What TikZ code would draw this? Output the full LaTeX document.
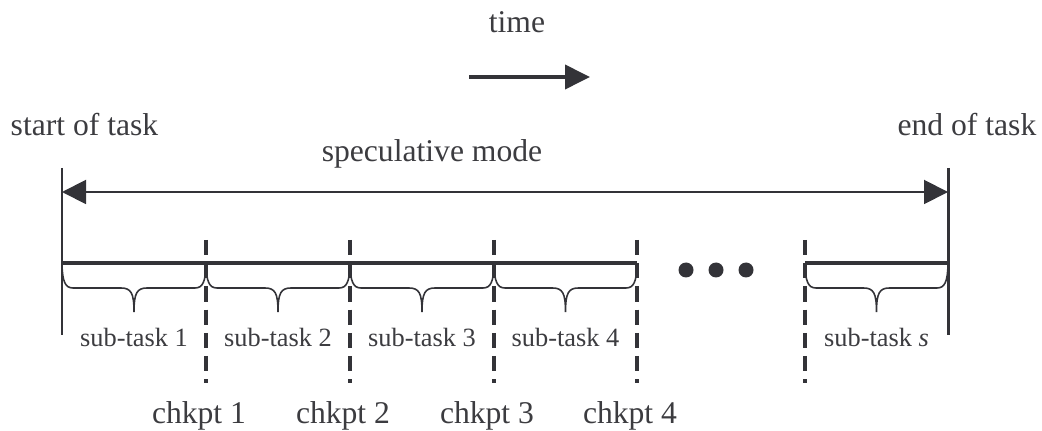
\documentclass[tikz,border=0pt]{standalone}
\usepackage{fontspec}
\setmainfont{Liberation Serif}
\usetikzlibrary{arrows.meta, positioning, calc}
\definecolor{tlgray}{HTML}{333338}
\definecolor{txgray}{HTML}{3C3C40}

\begin{document}
\begin{tikzpicture}[
  lbl/.style={text=txgray, font=\fontsize{9}{11}\selectfont, inner sep=0pt, anchor=base},
  sublbl/.style={text=txgray, font=\fontsize{7.5}{9}\selectfont, inner sep=0pt, anchor=base},
  bound/.style={draw=tlgray, line width=0.85pt},
  track/.style={draw=tlgray, line width=1.15pt},
  chk/.style={draw=tlgray, line width=1.1pt, dash pattern=on 4.3pt off 2.3pt},
  span/.style={draw=tlgray, fill=tlgray, line width=0.55pt, {Triangle[length=0.24cm, width=0.24cm]}-{Triangle[length=0.24cm, width=0.24cm]}},
  sub/.style={draw=tlgray, line width=0.45pt, to path={
    let \p1=(\tikztostart), \p2=(\tikztotarget), \n1={0.5*\x1+0.5*\x2} in
    (\p1) .. controls (\x1+0.005cm, \y1-0.16cm) and (\x1+0.03cm, \y1-0.23cm) .. (\x1+0.11cm, \y1-0.23cm)
    -- (\n1-0.13cm, \y1-0.23cm) .. controls (\n1-0.03cm, \y1-0.23cm) and (\n1, \y1-0.28cm) .. (\n1, \y1-0.47cm)
    .. controls (\n1, \y1-0.28cm) and (\n1+0.03cm, \y1-0.23cm) .. (\n1+0.13cm, \y1-0.23cm)
    -- (\x2-0.11cm, \y2-0.23cm) .. controls (\x2-0.03cm, \y2-0.23cm) and (\x2-0.005cm, \y2-0.16cm) .. (\p2)}},
]
  \useasboundingbox (0, 0) rectangle (10.42, 4.30);

  % Time direction
  \node[lbl] (time) at (5.17, 3.97) {time};
  \coordinate (t0) at (4.69, 3.53);
  \coordinate (t1) at (5.90, 3.53);
  \draw[draw=tlgray, fill=tlgray, line width=1.1pt, -{Triangle[length=0.25cm, width=0.24cm]}] (t0) -- (t1);

  % Task bounds
  \node[lbl, anchor=base west] (start) at (0.10, 2.94) {start of task};
  \node[lbl, anchor=base east] (end) at (10.37, 2.94) {end of task};
  \node[lbl] (spec) at (4.32, 2.68) {speculative mode};
  \coordinate (s0top) at (0.62, 2.62);
  \coordinate (s0bot) at (0.62, 0.95);
  \coordinate (s1top) at (9.48, 2.62);
  \coordinate (s1bot) at (9.48, 0.95);
  \draw[bound] (s0top) -- (s0bot);
  \draw[bound] (s1top) -- (s1bot);
  \coordinate (m0) at (0.62, 2.38);
  \coordinate (m1) at (9.48, 2.38);
  \draw[span] (m0) -- (m1);

  % Checkpoints
  \coordinate (c1top) at (2.06, 1.90);
  \coordinate (c1bot) at (2.06, 0.47);
  \coordinate (c2top) at (3.50, 1.90);
  \coordinate (c2bot) at (3.50, 0.47);
  \coordinate (c3top) at (4.94, 1.90);
  \coordinate (c3bot) at (4.94, 0.47);
  \coordinate (c4top) at (6.37, 1.90);
  \coordinate (c4bot) at (6.37, 0.47);
  \coordinate (cstop) at (8.05, 1.90);
  \coordinate (csbot) at (8.05, 0.47);
  \draw[chk] (c1top) -- (c1bot);
  \draw[chk] (c2top) -- (c2bot);
  \draw[chk] (c3top) -- (c3bot);
  \draw[chk] (c4top) -- (c4bot);
  \draw[chk] (cstop) -- (csbot);
  \node[lbl] (chk1) at (1.99, 0.07) {chkpt 1};
  \node[lbl] (chk2) at (3.43, 0.07) {chkpt 2};
  \node[lbl] (chk3) at (4.87, 0.07) {chkpt 3};
  \node[lbl] (chk4) at (6.30, 0.07) {chkpt 4};

  % Timeline
  \coordinate (p0) at (0.62, 1.67);
  \coordinate (p1) at (2.06, 1.67);
  \coordinate (p2) at (3.50, 1.67);
  \coordinate (p3) at (4.94, 1.67);
  \coordinate (p4) at (6.37, 1.67);
  \coordinate (ps) at (8.05, 1.67);
  \coordinate (pe) at (9.48, 1.67);
  \draw[track] (p0) -- (p4);
  \draw[track] (ps) -- (pe);
  \fill[tlgray] (6.86, 1.60) circle (0.075) (7.16, 1.60) circle (0.075) (7.46, 1.60) circle (0.075);

  % Sub-tasks
  \draw[sub] ([yshift=-0.02cm]p0) to ([yshift=-0.02cm]p1);
  \draw[sub] ([yshift=-0.02cm]p1) to ([yshift=-0.02cm]p2);
  \draw[sub] ([yshift=-0.02cm]p2) to ([yshift=-0.02cm]p3);
  \draw[sub] ([yshift=-0.02cm]p3) to ([yshift=-0.02cm]p4);
  \draw[sub] ([yshift=-0.02cm]ps) to ([yshift=-0.02cm]pe);
  \node[sublbl] (sub1) at (1.34, 0.83) {sub-task 1};
  \node[sublbl] (sub2) at (2.78, 0.83) {sub-task 2};
  \node[sublbl] (sub3) at (4.22, 0.83) {sub-task 3};
  \node[sublbl] (sub4) at (5.655, 0.83) {sub-task 4};
  \node[sublbl] (subs) at (8.765, 0.83) {sub-task \textit{s}};
\end{tikzpicture}
\end{document}
